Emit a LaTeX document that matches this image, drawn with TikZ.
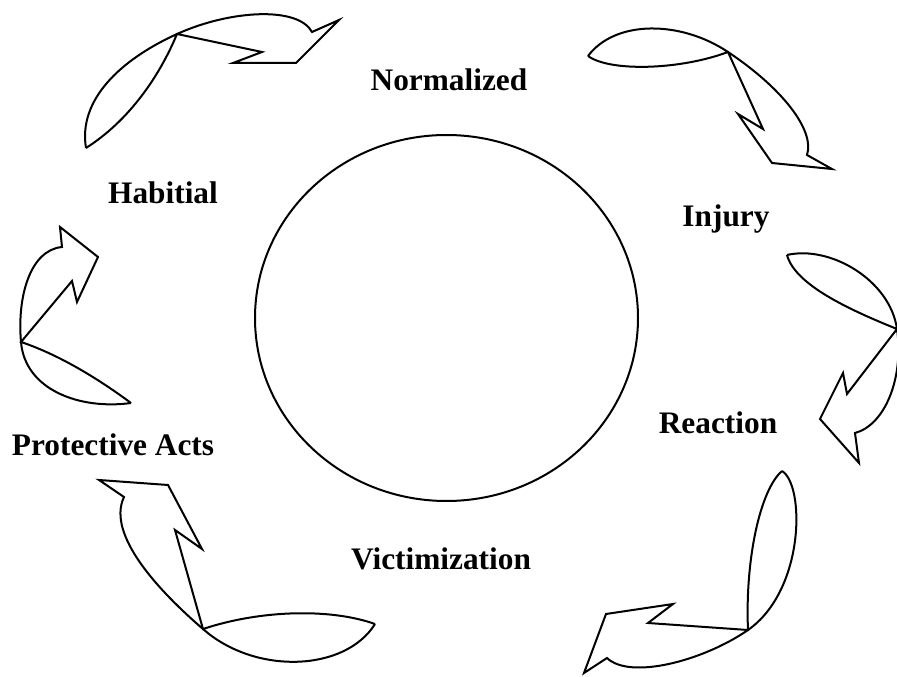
\documentclass[tikz,border=0pt]{standalone}
\usepackage{fontspec}
\setmainfont{Liberation Serif}
\usepackage{tikz}
\usetikzlibrary{positioning, calc}

\begin{document}
\begin{tikzpicture}[
    x=0.75pt, y=-0.75pt,
    stage/.style={font=\fontsize{23.5}{28}\selectfont\bfseries, anchor=base, inner sep=0pt},
    bentarrow/.style={draw, line width=1.5pt, line join=miter},
    ring/.style={draw, line width=1.5pt}
]
\useasboundingbox (0,0) rectangle (897,677);

% centre
\coordinate (hub) at (446.5,318);
\draw[ring] (hub) ellipse [x radius=191.5, y radius=183];

% stages
\node[stage] (normalized) at (449,91) {Normalized};
\node[stage] (injury) at (726,227) {Injury};
\node[stage] (reaction) at (718,434) {Reaction};
\node[stage] (victim) at (441,570) {Victimization};
\node[stage] (protective) at (113,456) {Protective Acts};
\node[stage] (habitial) at (163,204) {Habitial};

% arrows between stages
\draw[bentarrow] (86,148) .. controls (78,100) and (120,60) .. (177,34)
    .. controls (230,10) and (298,6) .. (312,32)
    -- (339,20) -- (296,63) -- (233,63) -- (262,52) -- (177,34)
    .. controls (160,75) and (130,120) .. (86,148);

\draw[bentarrow] (588,56) .. controls (615,20) and (680,20) .. (728,52)
    .. controls (782,88) and (815,130) .. (807,155)
    -- (832,169) -- (772,163) -- (738,114) -- (763,129) -- (728,52)
    .. controls (680,70) and (610,72) .. (588,56);

\draw[bentarrow] (787,255) .. controls (830,245) and (890,280) .. (897,329)
    .. controls (904,378) and (885,425) .. (855,433)
    -- (859,463) -- (820,419) -- (843,373) -- (847,394) -- (897,329)
    .. controls (850,310) and (795,285) .. (787,255);

\draw[bentarrow] (782,471) .. controls (805,485) and (805,590) .. (748,630)
    .. controls (703,661) and (630,680) .. (607,658)
    -- (584,673) -- (606,614) -- (673,604) -- (648,623) -- (748,630)
    .. controls (745,560) and (760,490) .. (782,471);

\draw[bentarrow] (375,624) .. controls (345,672) and (255,675) .. (203,629)
    .. controls (160,592) and (106,535) .. (124,497)
    -- (99,480) -- (168,485) -- (202,549) -- (175,530) -- (203,629)
    .. controls (260,610) and (330,608) .. (375,624);

\draw[bentarrow] (131,403) .. controls (80,410) and (25,390) .. (21,342)
    .. controls (17,297) and (30,250) .. (62,247)
    -- (60,227) -- (98,257) -- (77,302) -- (72,281) -- (21,342)
    .. controls (60,355) and (100,380) .. (131,403);

\end{tikzpicture}
\end{document}
